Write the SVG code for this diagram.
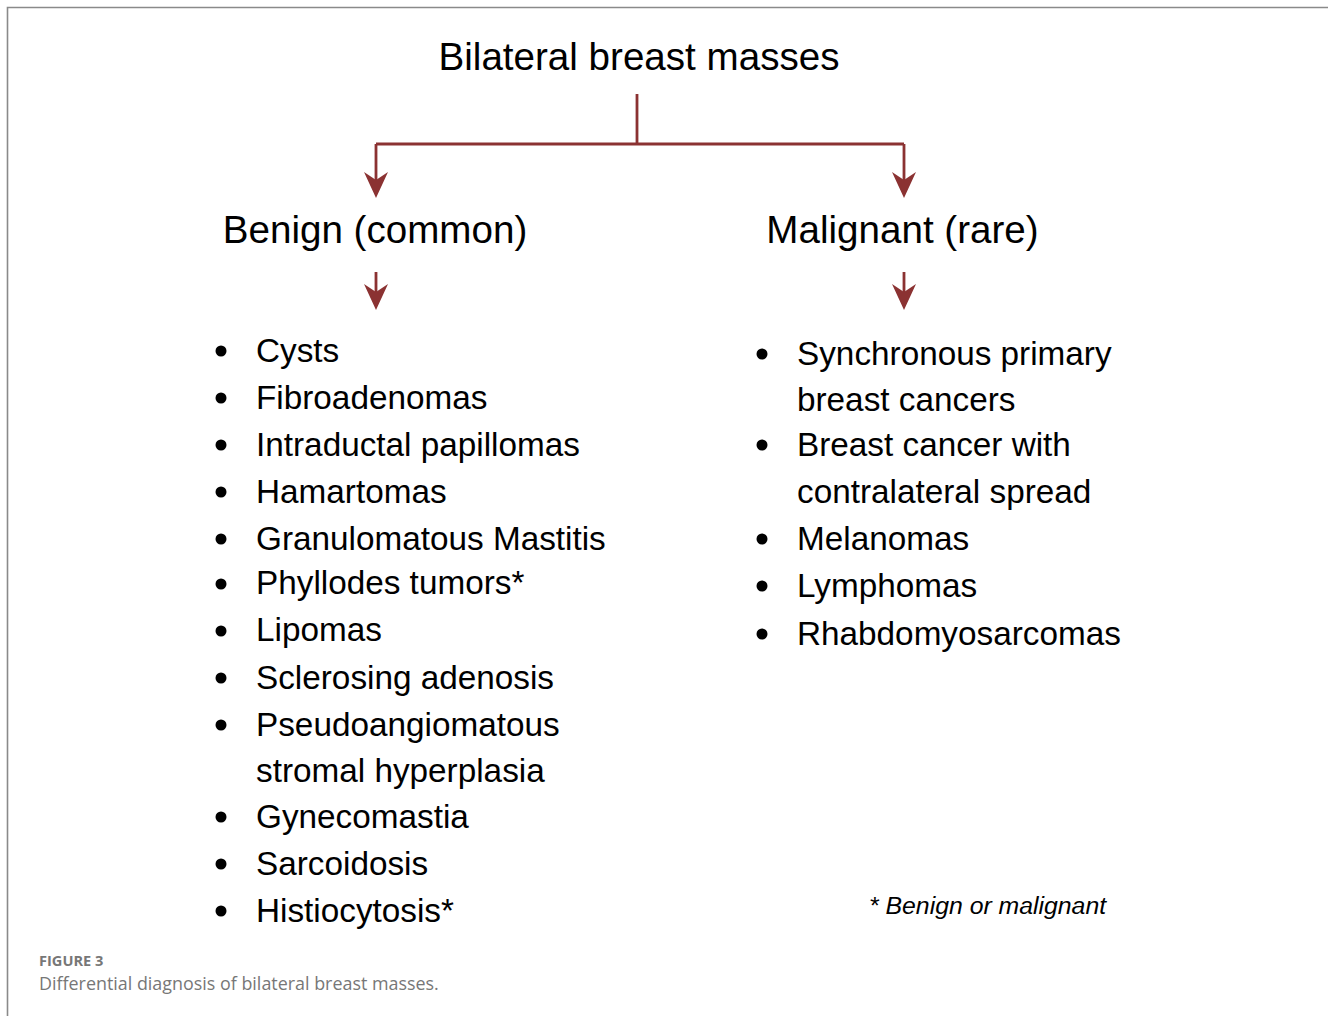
<svg xmlns="http://www.w3.org/2000/svg" width="1328" height="1016" viewBox="0 0 1328 1016">
<style>
.t{font-family:"Liberation Sans",Arial,Helvetica,sans-serif;fill:#000}
.h{font-size:38.6px}
.li{font-size:33.3px}
.conn{stroke:#8b3232;stroke-width:2.8;fill:none}
.head{fill:#8b3232}
.cap{font-family:"Open Sans","Noto Sans",sans-serif;fill:#777}
</style>
<rect width="1328" height="1016" fill="#fff"/>
<path d="M7.5 1016 V7.5 H1328" fill="none" stroke="#8a8a8a" stroke-width="1.6"/>
<g id="connectors">
<path class="conn" d="M637 94 V144"/>
<path class="conn" d="M376 144 H904"/>
<path class="conn" d="M376 144 V182"/>
<path class="conn" d="M904 144 V182"/>
<path class="conn" d="M376 272 V294"/>
<path class="conn" d="M904 272 V294"/>
<path class="head" d="M376 198 L364 172 Q370 176 376 180 Q382 176 388 172 Z"/>
<path class="head" d="M904 198 L892 172 Q898 176 904 180 Q910 176 916 172 Z"/>
<path class="head" d="M376 310 L364 284 Q370 288 376 292 Q382 288 388 284 Z"/>
<path class="head" d="M904 310 L892 284 Q898 288 904 292 Q910 288 916 284 Z"/>
</g>
<g id="title"><text class="t h" x="639" y="70" text-anchor="middle">Bilateral breast masses</text></g>
<g id="benign"><text class="t h" x="375" y="243" text-anchor="middle">Benign (common)</text></g>
<g id="malignant"><text class="t h" x="902.5" y="243" text-anchor="middle">Malignant (rare)</text></g>
<g id="benign-list" class="t li">
<g fill="#000">
<circle cx="221" cy="351" r="5.5"/>
<circle cx="221" cy="398" r="5.5"/>
<circle cx="221" cy="445" r="5.5"/>
<circle cx="221" cy="492" r="5.5"/>
<circle cx="221" cy="539" r="5.5"/>
<circle cx="221" cy="584" r="5.5"/>
<circle cx="221" cy="631" r="5.5"/>
<circle cx="221" cy="678" r="5.5"/>
<circle cx="221" cy="725" r="5.5"/>
<circle cx="221" cy="817" r="5.5"/>
<circle cx="221" cy="864" r="5.5"/>
<circle cx="221" cy="911" r="5.5"/>
</g>
<text x="256" y="362">Cysts</text>
<text x="256" y="409">Fibroadenomas</text>
<text x="256" y="456">Intraductal papillomas</text>
<text x="256" y="503">Hamartomas</text>
<text x="256" y="550">Granulomatous Mastitis</text>
<text x="256" y="594">Phyllodes tumors*</text>
<text x="256" y="641">Lipomas</text>
<text x="256" y="689">Sclerosing adenosis</text>
<text x="256" y="736">Pseudoangiomatous</text>
<text x="256" y="782">stromal hyperplasia</text>
<text x="256" y="828">Gynecomastia</text>
<text x="256" y="875">Sarcoidosis</text>
<text x="256" y="922">Histiocytosis*</text>
</g>
<g id="malignant-list" class="t li">
<g fill="#000">
<circle cx="762" cy="354" r="5.5"/>
<circle cx="762" cy="445" r="5.5"/>
<circle cx="762" cy="539" r="5.5"/>
<circle cx="762" cy="586" r="5.5"/>
<circle cx="762" cy="634" r="5.5"/>
</g>
<text x="797" y="365">Synchronous primary</text>
<text x="797" y="411">breast cancers</text>
<text x="797" y="456">Breast cancer with</text>
<text x="797" y="503">contralateral spread</text>
<text x="797" y="550">Melanomas</text>
<text x="797" y="597">Lymphomas</text>
<text x="797" y="645">Rhabdomyosarcomas</text>
</g>
<g id="footnote"><text class="t" x="869" y="914" font-size="24.8" font-style="italic">* Benign or malignant</text></g>
<g id="caption">
<text class="cap" x="39" y="966" font-size="14.6" font-weight="700" fill="#888">FIGURE 3</text>
<text class="cap" x="39" y="990" font-size="17.9">Differential diagnosis of bilateral breast masses.</text>
</g>
</svg>
